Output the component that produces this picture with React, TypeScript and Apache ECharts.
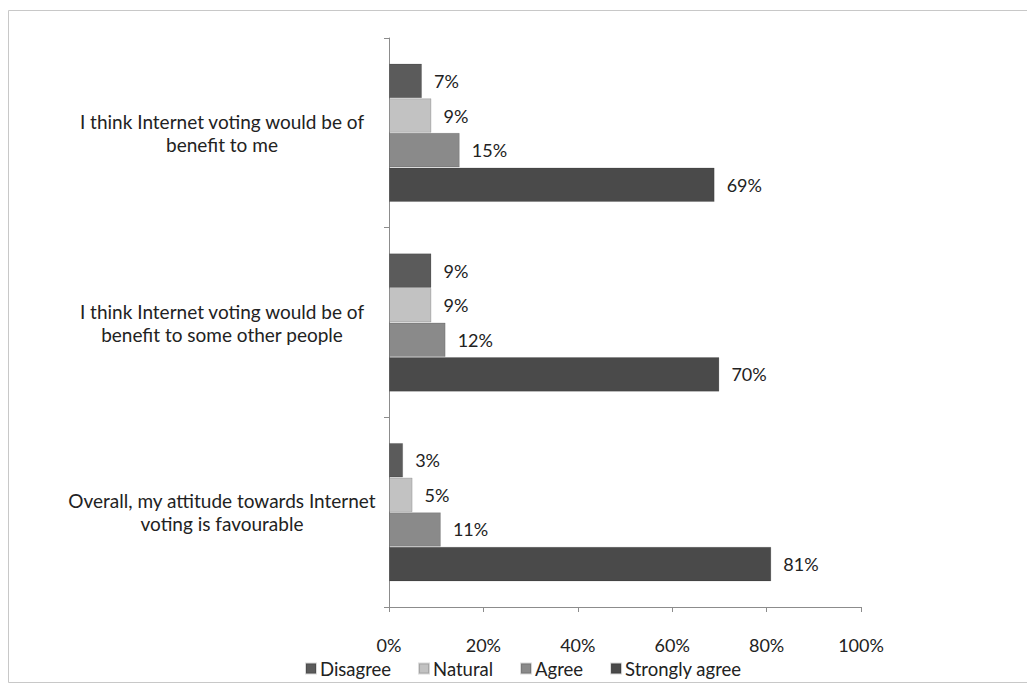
import React, { useEffect, useRef } from "react";
import * as echarts from "echarts";

const categories = [
  "I think Internet voting would be of\nbenefit to me",
  "I think Internet voting would be of\nbenefit to some other people",
  "Overall, my attitude towards Internet\nvoting is favourable",
];
const seriesNames = ["Disagree", "Natural", "Agree", "Strongly agree"];
const disagree = [7, 9, 3];
const natural = [9, 9, 5];
const agree = [15, 12, 11];
const stronglyAgree = [69, 70, 81];
const xTicks = [0, 20, 40, 60, 80, 100];

const colors = ["#5b5b5b", "#c2c2c2", "#8a8a8a", "#4a4a4a"];
const FONT = "Lato";

export default function App() {
  const ref = useRef<HTMLDivElement>(null);
  useEffect(() => {
    document.body.style.margin = "0";
    const chart = echarts.init(ref.current!, undefined, { renderer: "svg" });
    const values = [disagree, natural, agree, stronglyAgree];
    chart.setOption({
      animation: false,
      backgroundColor: "#ffffff",
      textStyle: { fontFamily: FONT },
      graphic: [
        {
          type: "rect",
          shape: { x: 8.5, y: 10.5, width: 1030, height: 672 },
          style: { fill: "none", stroke: "#c8c8c8", lineWidth: 1 },
          silent: true,
        },
      ],
      legend: {
        data: seriesNames,
        left: 300,
        top: 654,
        icon: "rect",
        itemWidth: 10,
        itemHeight: 10,
        itemGap: 27,
        textStyle: { fontFamily: FONT, fontSize: 18.5, color: "#222", padding: [0, 0, 0, -1] },
      },
      grid: { left: 389, right: 166, top: 38, bottom: 83, containLabel: false },
      xAxis: {
        type: "value",
        min: xTicks[0],
        max: xTicks[xTicks.length - 1],
        interval: 20,
        axisLine: { show: true, lineStyle: { color: "#8c8c8c" } },
        axisTick: { show: true, length: 5, inside: false, lineStyle: { color: "#8c8c8c" } },
        splitLine: { show: false },
        axisLabel: {
          formatter: (v: number) => v + "%",
          fontFamily: FONT,
          fontSize: 18,
          color: "#222",
          margin: 29,
        },
      },
      yAxis: {
        type: "category",
        data: categories,
        inverse: true,
        axisLine: { show: true, lineStyle: { color: "#8c8c8c" } },
        axisTick: { show: true, length: 5, lineStyle: { color: "#8c8c8c" } },
        axisLabel: {
          align: "center",
          margin: 167,
          fontFamily: FONT,
          fontSize: 19,
          lineHeight: 23,
          color: "#222",
          padding: [4, 0, 0, 0],
        },
      },
      series: seriesNames.map((name, i) => ({
        name,
        type: "bar",
        data: values[i],
        barGap: "0%",
        barCategoryGap: "27%",
        itemStyle: { color: colors[i], borderColor: "rgba(0,0,0,0.15)", borderWidth: 1 },
        label: {
          show: true,
          position: "right",
          distance: 12,
          formatter: "{c}%",
          fontFamily: FONT,
          fontSize: 18,
          color: "#222",
        },
      })),
    });
    return () => chart.dispose();
  }, []);
  return <div ref={ref} style={{ width: 1027, height: 690 }} />;
}
